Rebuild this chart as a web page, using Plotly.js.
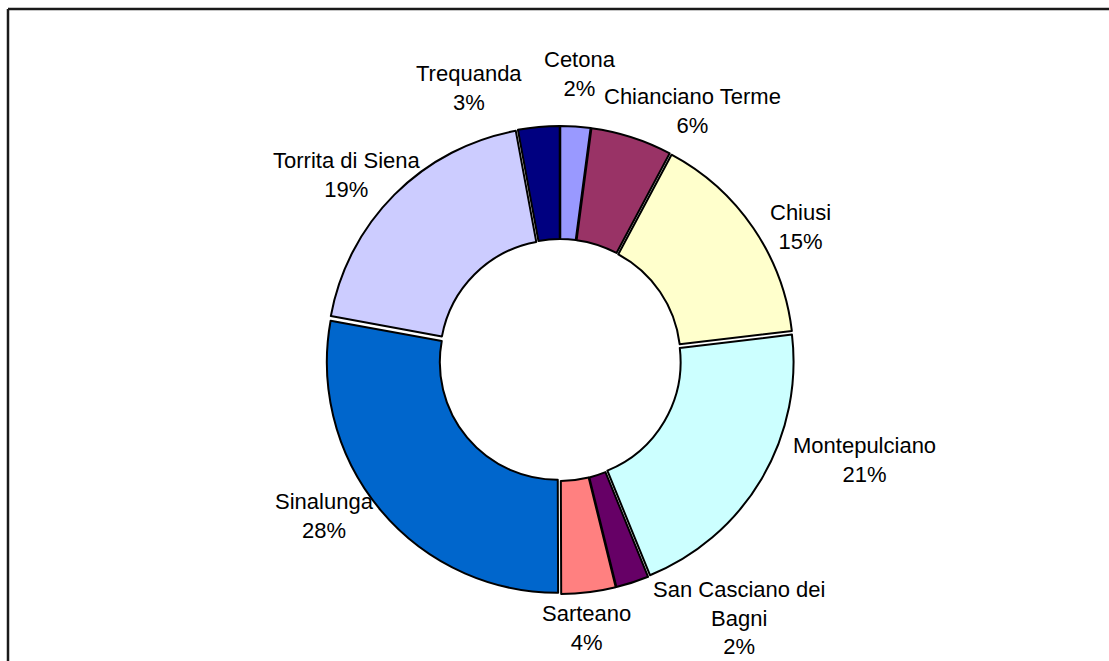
<!DOCTYPE html>
<html>
<head>
<meta charset="utf-8">
<script src="https://cdn.plot.ly/plotly-3.0.1.min.js"></script>
<style>
html,body{margin:0;padding:0;background:#fff;}
#chart{width:1109px;height:661px;}
</style>
</head>
<body>
<div id="chart"></div>
<script>
// ---- data ----
const labels = ["Cetona", "Chianciano Terme", "Chiusi", "Montepulciano", "San Casciano dei Bagni", "Sarteano", "Sinalunga", "Torrita di Siena", "Trequanda"];
const shownLabels = ["Cetona", "Chianciano Terme", "Chiusi", "Montepulciano", "San Casciano dei<br>Bagni", "Sarteano", "Sinalunga", "Torrita di Siena", "Trequanda"];
const values = [2.1, 5.7, 15.3, 20.7, 2.3, 3.8, 27.9, 19.2, 2.9];
const percentLabels = ["2%", "6%", "15%", "21%", "2%", "4%", "28%", "19%", "3%"];
const colors = ["#9999FF", "#993366", "#FFFFCC", "#CCFFFF", "#660066", "#FF8080", "#0066CC", "#CCCCFF", "#000080"];

// ---- layout constants ----
const W = 1109, H = 661;
const domX = [0.2940, 0.7160], domY = [0.1014, 0.8094];
const labelRadius = 285; // px from centre, along each slice's mid-angle
// per-label nudges (px) to mimic the original "best fit" label placement
const nudgeX = [1, 45, 5, 59, 91, -8, -17, -11, -65];
const nudgeY = [2, -22, -28, 45, 13, 15, 27, -16, -12];
const fontFamily = "Liberation Sans, Arial, sans-serif";
const fontSize = 22;

const total = values.reduce((a, b) => a + b, 0);
const cx = (domX[0] + domX[1]) / 2 * W;
const cy = (1 - (domY[0] + domY[1]) / 2) * H;

let cum = 0;
const annotations = values.map((v, i) => {
  const mid = (cum + v / 2) / total * 2 * Math.PI;
  cum += v;
  const px = cx + labelRadius * Math.sin(mid);
  const py = cy - labelRadius * Math.cos(mid);
  return {
    xref: "paper", yref: "paper",
    x: px / W, y: 1 - py / H,
    xanchor: "center", yanchor: "middle",
    xshift: nudgeX[i], yshift: nudgeY[i],
    text: shownLabels[i] + "<br>" + percentLabels[i],
    showarrow: false,
    align: "center",
    font: {family: fontFamily, size: fontSize, color: "#000000"}
  };
});

const trace = {
  type: "pie",
  labels: labels,
  values: values,
  textinfo: "none",
  hole: 0.51,
  pull: 0.015,
  sort: false,
  direction: "clockwise",
  rotation: 0,
  marker: {colors: colors, line: {color: "#000000", width: 2}},
  domain: {x: domX, y: domY},
  showlegend: false,
  hoverinfo: "label+percent"
};

const layout = {
  width: W,
  height: H,
  margin: {l: 0, r: 0, t: 0, b: 0},
  paper_bgcolor: "#ffffff",
  showlegend: false,
  font: {family: fontFamily, size: fontSize, color: "#000000"},
  annotations: annotations,
  shapes: [
    {type: "line", xref: "paper", yref: "paper", x0: 8/W, x1: 1.01, y0: 1 - 9/H, y1: 1 - 9/H, line: {color: "#1a1a1a", width: 2.5}},
    {type: "line", xref: "paper", yref: "paper", x0: 8/W, x1: 8/W, y0: 1 - 9/H, y1: -0.02, line: {color: "#1a1a1a", width: 2.5}}
  ]
};

Plotly.newPlot("chart", [trace], layout, {displayModeBar: false, staticPlot: true});
</script>
</body>
</html>
